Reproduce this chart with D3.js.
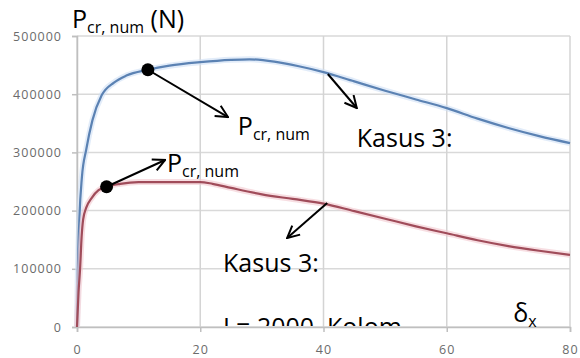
<!DOCTYPE html>
<html><head><meta charset="utf-8">
<script src="https://cdn.jsdelivr.net/npm/d3@7"></script>
<style>body{margin:0;background:#fff}svg{display:block}</style>
</head><body>
<svg id="c" width="580" height="358"></svg>
<script>
// ---- data ----
const xTicks = [0, 20, 40, 60, 80];
const yTicks = [0, 100000, 200000, 300000, 400000, 500000];
const blueX = [0, 0.15, 0.4, 0.8, 1.5, 2.5, 4, 6, 8, 11.5, 15, 20, 25, 28, 32, 36, 40, 45, 50, 55, 60, 65, 70, 75, 80];
const blueY = [0, 100000, 190000, 258000, 305000, 355000, 398000, 420000, 432000, 442000, 449000, 455000, 459000, 460000, 456000, 448000, 438000, 422000, 406000, 391000, 376000, 358000, 342000, 328000, 316000];
const redX = [0, 0.25, 0.5, 0.75, 1, 1.5, 2.4, 3.5, 4.8, 7, 10, 15, 20, 22, 25, 30, 35, 40, 45, 50, 55, 60, 65, 70, 75, 80];
const redY = [0, 60000, 100000, 155000, 185000, 205000, 222000, 235000, 241000, 246000, 249000, 249000, 249000, 246000, 239000, 228000, 220000, 212000, 199000, 186000, 173000, 161000, 149000, 139000, 131000, 124000];
const dots = [[11.5, 442000], [4.8, 241000]];
const arrows = [
  [[11.5, 442000], [24.5, 360800]],
  [[4.8, 241000], [14.3, 287000]],
  [[40.7, 434700], [45.4, 376300]],
  [[40.6, 213000], [34.1, 152900]]
];
const labels = [
  {x: -0.8, y: 513700, main: "P", sub: "cr, num", tail: " (N)"},
  {x: 26.1, y: 329900, main: "P", sub: "cr, num", tail: ""},
  {x: 14.6, y: 266300, main: "P", sub: "cr, num", tail: ""},
  {x: 45.4, y: 309300, main: "Kasus 3:", sub: "", tail: ""},
  {x: 23.7, y: 94500, main: "Kasus 3:", sub: "", tail: ""},
  {x: 70.8, y: 8600, main: "δ", sub: "x", tail: ""}
];
const clippedLabel = {x: 23.7, y: -15500, text: "L= 2000, Kolom"};

// ---- chart ----
const svg = d3.select("#c");
const x = d3.scaleLinear().domain([0, 80]).range([77, 570]);
const y = d3.scaleLinear().domain([0, 500000]).range([327, 36]);
const font = "'Open Sans', sans-serif";

// grid
svg.append("g").selectAll("line").data(yTicks).join("line")
  .attr("x1", x(0)).attr("x2", x(80)).attr("y1", d => y(d)).attr("y2", d => y(d))
  .attr("stroke", "#d9d9d9").attr("stroke-width", 1.5);
svg.append("g").selectAll("line").data(xTicks).join("line")
  .attr("x1", d => x(d)).attr("x2", d => x(d)).attr("y1", y(0)).attr("y2", y(500000))
  .attr("stroke", "#d4d4d4").attr("stroke-width", 1.5);

// axes
const yAxis = d3.axisLeft(y).tickValues(yTicks).tickSize(5).tickPadding(10).tickFormat(d3.format("d"));
const gy = svg.append("g").attr("transform", `translate(${x(0)},0)`).call(yAxis);
const xAxis = d3.axisBottom(x).tickValues(xTicks).tickSize(5).tickPadding(13).tickFormat(d3.format("d"));
const gx = svg.append("g").attr("transform", `translate(0,${y(0)})`).call(xAxis);
[gx, gy].forEach(g => {
  g.select(".domain").attr("stroke", "#bfbfbf").attr("stroke-width", 1.5);
  g.selectAll(".tick line").attr("stroke", "#bfbfbf").attr("stroke-width", 1.5);
  g.selectAll(".tick text").attr("fill", "#6b6b6b").style("font-family", font)
    .style("font-size", "12.5px").style("letter-spacing", "1px");
});

// clipped text behind axis
svg.append("clipPath").attr("id", "pc").append("rect")
  .attr("x", x(0)).attr("y", y(500000)).attr("width", x(80) - x(0)).attr("height", y(0) - y(500000) - 1);
svg.append("text").attr("clip-path", "url(#pc)")
  .attr("x", x(clippedLabel.x)).attr("y", y(clippedLabel.y))
  .style("font-family", font).style("font-size", "25px").attr("fill", "#000")
  .text(clippedLabel.text);

// lines
const line = d3.line().x(d => x(d[0])).y(d => y(d[1])).curve(d3.curveMonotoneX);
const blue = blueX.map((v, i) => [v, blueY[i]]);
const red = redX.map((v, i) => [v, redY[i]]);
svg.append("path").attr("d", line(blue)).attr("fill", "none").attr("stroke", "#cfe0f5").attr("stroke-width", 6).attr("opacity", 0.6);
svg.append("path").attr("d", line(blue)).attr("fill", "none").attr("stroke", "#5b82b3").attr("stroke-width", 2.2);
svg.append("path").attr("d", line(red)).attr("fill", "none").attr("stroke", "#f2c8cf").attr("stroke-width", 6).attr("opacity", 0.6);
svg.append("path").attr("d", line(red)).attr("fill", "none").attr("stroke", "#a04c5a").attr("stroke-width", 2.2);

// arrows
svg.append("defs").append("marker").attr("id", "ah")
  .attr("viewBox", "0 0 14 14").attr("refX", 13).attr("refY", 7)
  .attr("markerWidth", 14).attr("markerHeight", 14).attr("markerUnits", "userSpaceOnUse")
  .attr("orient", "auto")
  .append("path").attr("d", "M1,1 L13,7 L1,13").attr("fill", "none").attr("stroke", "#000").attr("stroke-width", 2);
svg.append("g").selectAll("line").data(arrows).join("line")
  .attr("x1", d => x(d[0][0])).attr("y1", d => y(d[0][1]))
  .attr("x2", d => x(d[1][0])).attr("y2", d => y(d[1][1]))
  .attr("stroke", "#000").attr("stroke-width", 2).attr("marker-end", "url(#ah)");

// dots
svg.append("g").selectAll("circle").data(dots).join("circle")
  .attr("cx", d => x(d[0])).attr("cy", d => y(d[1])).attr("r", 6.5).attr("fill", "#000");

// labels
labels.forEach(l => {
  const t = svg.append("text").attr("x", x(l.x)).attr("y", y(l.y))
    .style("font-family", font).attr("fill", "#000");
  t.append("tspan").style("font-size", "25px").text(l.main);
  if (l.sub) t.append("tspan").style("font-size", "16px").attr("dy", 5).text(l.sub);
  if (l.tail) t.append("tspan").style("font-size", "25px").attr("dy", -5).text(l.tail);
});
</script>
</body></html>
